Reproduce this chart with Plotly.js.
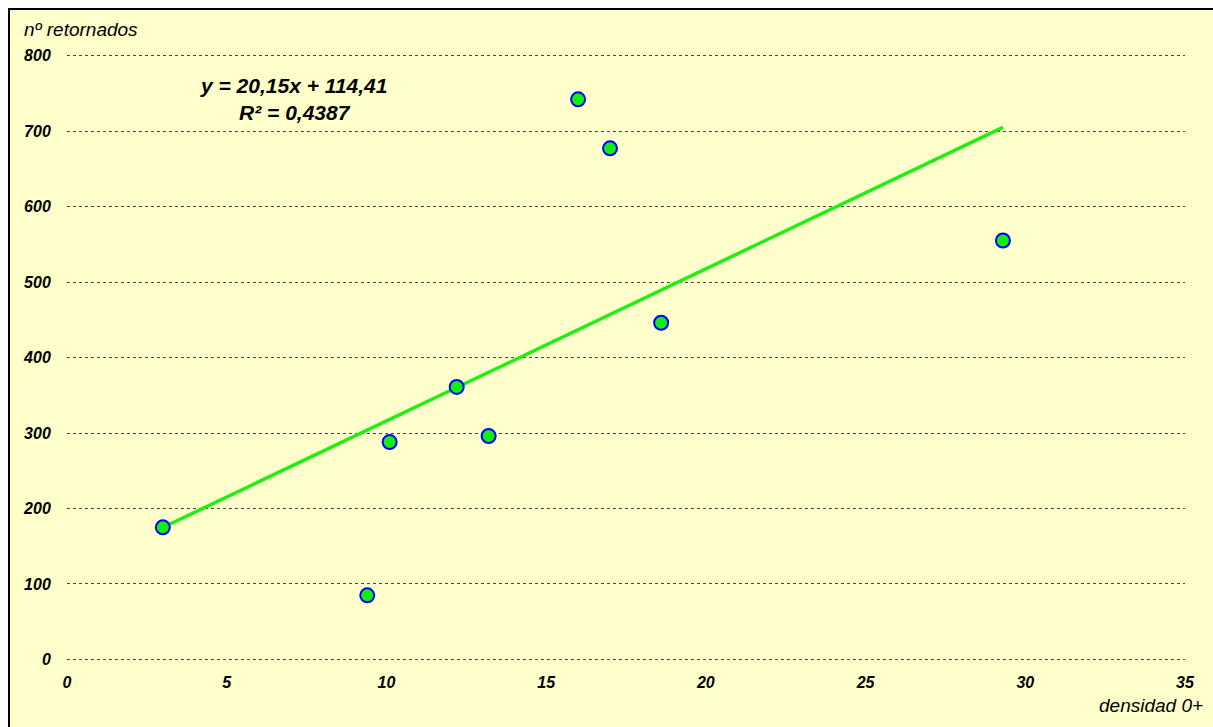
<!DOCTYPE html>
<html><head><meta charset="utf-8">
<script src="https://cdn.plot.ly/plotly-3.0.1.min.js"></script>
<style>
html,body{margin:0;padding:0;background:#fff;overflow:hidden}
#frame{position:absolute;left:8px;top:8px;width:1210px;height:724px;border-left:2px solid #000;border-top:2px solid #000;background:#FFFFCC}
#chart{position:absolute;left:0;top:0;width:1203px;height:717px}
</style></head>
<body><div id="frame"><div id="chart"></div></div>
<script>
const densidad = [3.0, 9.4, 10.1, 12.2, 13.2, 16.0, 17.0, 18.6, 29.3];
const retornados = [175, 85, 288, 361, 296, 742, 677, 446, 555];
const slope = 20.15, intercept = 114.41;
const trendX = [3.0, 29.3];
const trendY = trendX.map(x => slope * x + intercept);
const xTicks = [0, 5, 10, 15, 20, 25, 30, 35];
const yTicks = [0, 100, 200, 300, 400, 500, 600, 700, 800];

const FF = 'Liberation Sans, Arial, sans-serif';
const tickFont = {family: FF, size: 16, color: '#000', weight: 'bold', style: 'italic'};
const data = [
  {x: trendX, y: trendY, mode: 'lines', line: {color: '#22EE11', width: 3.5}, hoverinfo: 'skip'},
  {x: densidad, y: retornados, mode: 'markers', marker: {size: 14, color: '#11EE11', line: {color: '#0000FF', width: 2}}}
];
const layout = {
  width: 1203, height: 717,
  margin: {l: 57, r: 28, t: 44, b: 66},
  paper_bgcolor: '#FFFFCC', plot_bgcolor: '#FFFFCC',
  showlegend: false,
  xaxis: {range: [0, 35], tickvals: xTicks, ticktext: xTicks.map(String), showgrid: false, zeroline: false, showline: false,
          ticks: 'outside', ticklen: 7, tickcolor: 'rgba(0,0,0,0)', tickfont: tickFont},
  yaxis: {range: [-2, 802], tickvals: yTicks, ticktext: yTicks.map(String), showgrid: true, gridcolor: '#444', griddash: 'dot', gridwidth: 1,
          zeroline: false, showline: false, ticks: 'outside', ticklen: 12, tickcolor: 'rgba(0,0,0,0)', tickfont: tickFont},
  annotations: [
    {xref: 'paper', yref: 'paper', x: -0.040, y: 1.041, xanchor: 'left', yanchor: 'middle', showarrow: false,
     text: 'nº retornados', font: {family: FF, size: 19, style: 'italic', color: '#000'}},
    {xref: 'paper', yref: 'paper', x: 1.018, y: -0.074, xanchor: 'right', yanchor: 'middle', showarrow: false,
     text: 'densidad 0+', font: {family: FF, size: 19, style: 'italic', color: '#000'}},
    {xref: 'x', yref: 'y', x: 7.1, y: 742, xanchor: 'center', yanchor: 'middle', showarrow: false,
     text: 'y = 20,15x + 114,41<br>R² = 0,4387',
     font: {family: FF, size: 21, weight: 'bold', style: 'italic', color: '#000'}}
  ]
};
Plotly.newPlot('chart', data, layout, {displayModeBar: false, staticPlot: true});
</script></body></html>
